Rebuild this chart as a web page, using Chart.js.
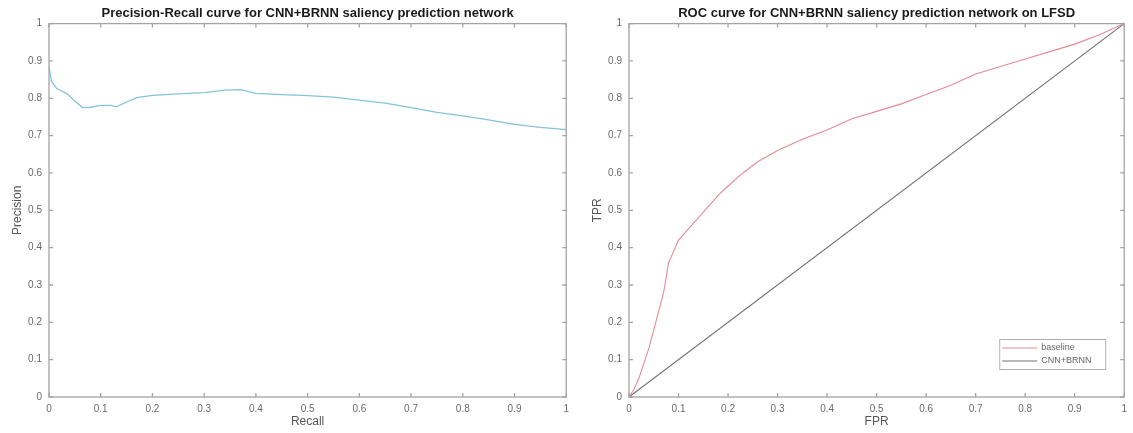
<!DOCTYPE html>
<html>
<head>
<meta charset="utf-8">
<script src="https://cdn.jsdelivr.net/npm/chart.js@4.4.1/dist/chart.umd.min.js"></script>
<style>
	html, body { margin: 0; padding: 0; background: #fff; }
	#wrap { position: relative; width: 1133px; height: 433px; }
	#prWrap { position: absolute; left: 0; top: 0; width: 575px; height: 433px; }
	#rocWrap { position: absolute; left: 575px; top: 0; width: 558px; height: 433px; }
</style>
</head>
<body>
<div id="wrap">
	<div id="prWrap"><canvas id="prChart"></canvas></div>
	<div id="rocWrap"><canvas id="rocChart"></canvas></div>
</div>
<script>
// data
const recallVals = [0, 0.005, 0.015, 0.035, 0.05, 0.065, 0.08, 0.1, 0.12, 0.13, 0.15, 0.17, 0.2, 0.25, 0.3, 0.34, 0.37, 0.4, 0.45, 0.5, 0.55, 0.6, 0.65, 0.7, 0.75, 0.8, 0.85, 0.9, 0.95, 1.0];
const precisionVals = [0.885, 0.845, 0.826, 0.812, 0.793, 0.775, 0.776, 0.781, 0.781, 0.777, 0.79, 0.802, 0.808, 0.812, 0.815, 0.822, 0.823, 0.813, 0.81, 0.807, 0.803, 0.795, 0.787, 0.775, 0.762, 0.753, 0.742, 0.73, 0.722, 0.716];

const fprVals = [0, 0.01, 0.02, 0.03, 0.04, 0.05, 0.06, 0.07, 0.08, 0.09, 0.1, 0.12, 0.14, 0.16, 0.18, 0.2, 0.23, 0.26, 0.3, 0.35, 0.4, 0.45, 0.5, 0.55, 0.6, 0.65, 0.7, 0.75, 0.8, 0.85, 0.9, 0.95, 1];
const tprBaseline = [0, 0.02, 0.05, 0.09, 0.13, 0.18, 0.23, 0.28, 0.36, 0.39, 0.42, 0.45, 0.48, 0.51, 0.54, 0.565, 0.6, 0.63, 0.66, 0.69, 0.715, 0.745, 0.765, 0.785, 0.81, 0.835, 0.865, 0.885, 0.905, 0.925, 0.945, 0.97, 1];
const diagFpr = [0, 1];
const diagTpr = [0, 1];

const axisTicks = [0, 0.1, 0.2, 0.3, 0.4, 0.5, 0.6, 0.7, 0.8, 0.9, 1];

const FONT = "'Liberation Sans', Arial, sans-serif";

function toPoints(xs, ys) {
	return xs.map((x, i) => ({ x: x, y: ys[i] }));
}

// kotak sumbu ala matlab, tick menghadap ke dalam
const frameTicks = {
	id: "frameTicks",
	afterDraw(chart) {
		const { ctx, chartArea: a } = chart;
		const xs = chart.scales.x;
		const ys = chart.scales.y;
		ctx.save();
		ctx.strokeStyle = "#a4a4a4";
		ctx.lineWidth = 1.3;
		ctx.strokeRect(a.left, a.top, a.right - a.left, a.bottom - a.top);
		ctx.beginPath();
		const len = 4;
		xs.ticks.forEach((t) => {
			const px = xs.getPixelForValue(t.value);
			ctx.moveTo(px, a.bottom);
			ctx.lineTo(px, a.bottom - len);
			ctx.moveTo(px, a.top);
			ctx.lineTo(px, a.top + len);
		});
		ys.ticks.forEach((t) => {
			const py = ys.getPixelForValue(t.value);
			ctx.moveTo(a.left, py);
			ctx.lineTo(a.left + len, py);
			ctx.moveTo(a.right, py);
			ctx.lineTo(a.right - len, py);
		});
		ctx.stroke();
		ctx.restore();
	},
};

// legenda di pojok kanan bawah area plot
const boxLegend = {
	id: "boxLegend",
	afterDraw(chart) {
		const { ctx, chartArea: a } = chart;
		const w = 106, h = 30;
		const x0 = a.right - 19 - w;
		const y0 = a.bottom - 28 - h;
		ctx.save();
		ctx.fillStyle = "#fff";
		ctx.fillRect(x0, y0, w, h);
		ctx.strokeStyle = "#b0b0b0";
		ctx.lineWidth = 1;
		ctx.strokeRect(x0 + 0.5, y0 + 0.5, w, h);
		ctx.font = "9px " + FONT;
		ctx.textBaseline = "middle";
		chart.data.datasets.forEach((ds, i) => {
			const ly = y0 + 9 + i * 13;
			ctx.strokeStyle = ds.borderColor;
			ctx.lineWidth = 1;
			ctx.beginPath();
			ctx.moveTo(x0 + 3, ly);
			ctx.lineTo(x0 + 38, ly);
			ctx.stroke();
			ctx.fillStyle = "#666";
			ctx.fillText(ds.label, x0 + 42, ly);
		});
		ctx.restore();
	},
};

function makeOptions(titleText, xLabel, yLabel, yAxisWidth, yTitlePad, rightPad) {
	return {
		responsive: true,
		maintainAspectRatio: false,
		animation: false,
		layout: { padding: { left: 0, right: rightPad, top: 0, bottom: 0 } },
		plugins: {
			legend: { display: false },
			tooltip: { enabled: false },
			title: {
				display: true,
				text: titleText,
				fullSize: false,
				color: "#1a1a1a",
				font: { family: FONT, size: 13, weight: "bold" },
				padding: { top: 6, bottom: 2 },
			},
		},
		scales: {
			x: {
				type: "linear",
				min: 0,
				max: 1,
				grid: { display: false, drawTicks: false },
				border: { display: false },
				afterBuildTicks: (s) => { s.ticks = axisTicks.map((v) => ({ value: v })); },
				afterFit: (s) => { s.height = 36; },
				ticks: {
					color: "#6a6a6a",
					padding: 6,
					maxRotation: 0,
					font: { family: FONT, size: 10 },
					callback: (v) => String(Math.round(v * 10) / 10),
				},
				title: {
					display: true,
					text: xLabel,
					color: "#555",
					font: { family: FONT, size: 12 },
					padding: { top: 0, bottom: 4 },
				},
			},
			y: {
				type: "linear",
				min: 0,
				max: 1,
				grid: { display: false, drawTicks: false },
				border: { display: false },
				afterBuildTicks: (s) => { s.ticks = axisTicks.map((v) => ({ value: v })); },
				afterFit: (s) => { s.width = yAxisWidth; },
				ticks: {
					color: "#6a6a6a",
					padding: 7,
					font: { family: FONT, size: 10 },
					callback: (v) => String(Math.round(v * 10) / 10),
				},
				title: {
					display: true,
					text: yLabel,
					color: "#555",
					font: { family: FONT, size: 12 },
					padding: { top: yTitlePad, bottom: 0 },
				},
			},
		},
	};
}

document.addEventListener("DOMContentLoaded", function () {
	// === PRECISION-RECALL ===
	new Chart(document.getElementById("prChart"), {
		type: "scatter",
		data: {
			datasets: [
				{
					label: "CNN+BRNN",
					data: toPoints(recallVals, precisionVals),
					showLine: true,
					borderColor: "#86c2dc",
					borderWidth: 1.3,
					pointRadius: 0,
					tension: 0,
				},
			],
		},
		options: makeOptions(
			"Precision-Recall curve for CNN+BRNN saliency prediction network",
			"Recall", "Precision", 49, 10, 6
		),
		plugins: [frameTicks],
	});

	// === ROC ===
	new Chart(document.getElementById("rocChart"), {
		type: "scatter",
		data: {
			datasets: [
				{
					label: "baseline",
					data: toPoints(fprVals, tprBaseline),
					showLine: true,
					borderColor: "#e58a98",
					borderWidth: 1.1,
					pointRadius: 0,
					tension: 0,
				},
				{
					label: "CNN+BRNN",
					data: toPoints(diagFpr, diagTpr),
					showLine: true,
					borderColor: "#6e6e6e",
					borderWidth: 1.1,
					pointRadius: 0,
					tension: 0,
				},
			],
		},
		options: makeOptions(
			"ROC curve for CNN+BRNN saliency prediction network on LFSD",
			"FPR", "TPR", 54, 15, 7
		),
		plugins: [frameTicks, boxLegend],
	});
});
</script>
</body>
</html>
